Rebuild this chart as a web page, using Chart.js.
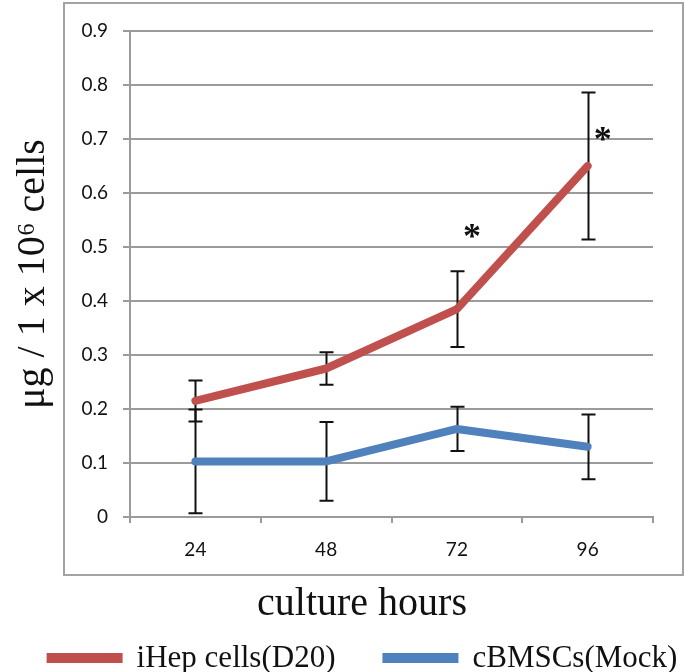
<!DOCTYPE html>
<html><head><meta charset="utf-8">
<script src="https://cdn.jsdelivr.net/npm/chart.js@4.4.0/dist/chart.umd.min.js"></script>
<style>html,body{margin:0;padding:0;background:#fff;}</style>
</head><body>
<canvas id="c" width="685" height="672"></canvas>
<script>
const categories = ['24', '48', '72', '96'];
const iHepValues = [0.215, 0.275, 0.385, 0.65];
const iHepErrors = [0.038, 0.030, 0.070, 0.136];
const mockValues = [0.103, 0.103, 0.163, 0.130];
const mockErrors = [0.096, 0.073, 0.041, 0.060];
const iHepSignificance = [null, null, 0.53, 0.71];
const yTickLabels = ['0', '0.1', '0.2', '0.3', '0.4', '0.5', '0.6', '0.7', '0.8', '0.9'];
const seriesLabels = ['iHep cells(D20)', 'cBMSCs(Mock)'];
const xTitle = 'culture hours';
const yTitle = 'μg / 1 x 10⁶ cells';

const RED = '#C0504D', BLUE = '#4F81BD', GRID = '#9b9b9b';
const errorSets = [iHepErrors, mockErrors];
const TEXT_CENTER = 362;

const frame = {
  id: 'frame',
  beforeDraw(chart) {
    const ctx = chart.ctx;
    ctx.save();
    ctx.fillStyle = '#fff';
    ctx.fillRect(0, 0, chart.width, chart.height);
    ctx.strokeStyle = '#a3a3a3';
    ctx.lineWidth = 2;
    ctx.strokeRect(64, 3, 619, 572);
    ctx.restore();
  }
};

const errorBars = {
  id: 'errorBars',
  beforeDatasetsDraw(chart) {
    const { ctx, scales: { x, y } } = chart;
    ctx.save();
    ctx.strokeStyle = '#111';
    ctx.lineWidth = 2;
    chart.data.datasets.forEach((ds, di) => {
      const errs = errorSets[di];
      ds.data.forEach((v, i) => {
        const px = Math.round(x.getPixelForValue(i)) + 0.5;
        const t = y.getPixelForValue(v + errs[i]);
        const b = y.getPixelForValue(v - errs[i]);
        ctx.beginPath();
        ctx.moveTo(px, t); ctx.lineTo(px, b);
        ctx.moveTo(px - 7, t); ctx.lineTo(px + 7, t);
        ctx.moveTo(px - 7, b); ctx.lineTo(px + 7, b);
        ctx.stroke();
      });
    });
    ctx.restore();
  },
  afterDatasetsDraw(chart) {
    const { ctx, scales: { x, y } } = chart;
    ctx.save();
    ctx.fillStyle = '#111';
    ctx.font = 'bold 36px "Liberation Serif"';
    ctx.textAlign = 'center';
    ctx.textBaseline = 'alphabetic';
    const m = ctx.measureText('*');
    const shift = (m.actualBoundingBoxAscent - m.actualBoundingBoxDescent) / 2;
    iHepSignificance.forEach((s, i) => {
      if (s == null) return;
      ctx.fillText('*', x.getPixelForValue(i) + 15, y.getPixelForValue(s) + shift);
    });
    ctx.restore();
  }
};

const bottomText = {
  id: 'bottomText',
  afterDraw(chart) {
    const ctx = chart.ctx;
    ctx.save();
    // x axis title
    ctx.fillStyle = '#111';
    ctx.font = '40px "Liberation Serif"';
    ctx.textAlign = 'center';
    ctx.textBaseline = 'middle';
    ctx.fillText(xTitle, TEXT_CENTER, 604);
    // legend
    ctx.textAlign = 'left';
    ctx.font = '31px "Liberation Serif"';
    const boxW = 76, boxH = 10, gap = 14, itemGap = 47, cy = 658;
    const items = chart.data.datasets.map(d => ({ label: d.label, color: d.borderColor }));
    const widths = items.map(it => boxW + gap + ctx.measureText(it.label).width);
    const total = widths.reduce((a, b) => a + b, 0) + itemGap * (items.length - 1);
    let xPos = TEXT_CENTER - total / 2;
    items.forEach((it, i) => {
      ctx.fillStyle = it.color;
      ctx.fillRect(xPos, cy - boxH / 2, boxW, boxH);
      ctx.fillStyle = '#111';
      ctx.fillText(it.label, xPos + boxW + gap, cy + 1);
      xPos += widths[i] + itemGap;
    });
    ctx.restore();
  }
};

new Chart(document.getElementById('c'), {
  type: 'line',
  data: {
    labels: categories,
    datasets: [
      { label: seriesLabels[0], data: iHepValues, borderColor: RED, backgroundColor: RED,
        borderWidth: 8, pointRadius: 0, borderCapStyle: 'round', borderJoinStyle: 'round', tension: 0 },
      { label: seriesLabels[1], data: mockValues, borderColor: BLUE, backgroundColor: BLUE,
        borderWidth: 8, pointRadius: 0, borderCapStyle: 'round', borderJoinStyle: 'round', tension: 0 }
    ]
  },
  options: {
    responsive: false,
    animation: false,
    devicePixelRatio: 1,
    layout: { padding: { top: 31, right: 32, bottom: 40, left: 0 } },
    plugins: { legend: { display: false }, tooltip: { enabled: false } },
    scales: {
      x: {
        offset: true,
        grid: { offset: true, drawOnChartArea: false, drawTicks: true, tickLength: 6, color: GRID, lineWidth: 2 },
        border: { display: true, color: GRID, width: 2 },
        ticks: { padding: 15, color: '#111', font: { family: 'Lato', size: 19 } },
        title: { display: false, text: xTitle },
        afterFit(s) { s.height = 115; }
      },
      y: {
        min: 0, max: 0.9,
        ticks: { stepSize: 0.1, padding: 15, color: '#111', font: { family: 'Lato', size: 19 },
          callback: (v, i) => yTickLabels[i] },
        grid: { color: GRID, lineWidth: 2, tickLength: 7, drawTicks: true },
        border: { display: true, color: GRID, width: 2 },
        title: { display: true, text: yTitle, color: '#111',
          font: { family: 'Liberation Serif', size: 40, lineHeight: 1 }, padding: { top: 13, bottom: 0 } },
        afterFit(s) { s.width = 130; }
      }
    }
  },
  plugins: [frame, errorBars, bottomText]
});
</script>
</body></html>
